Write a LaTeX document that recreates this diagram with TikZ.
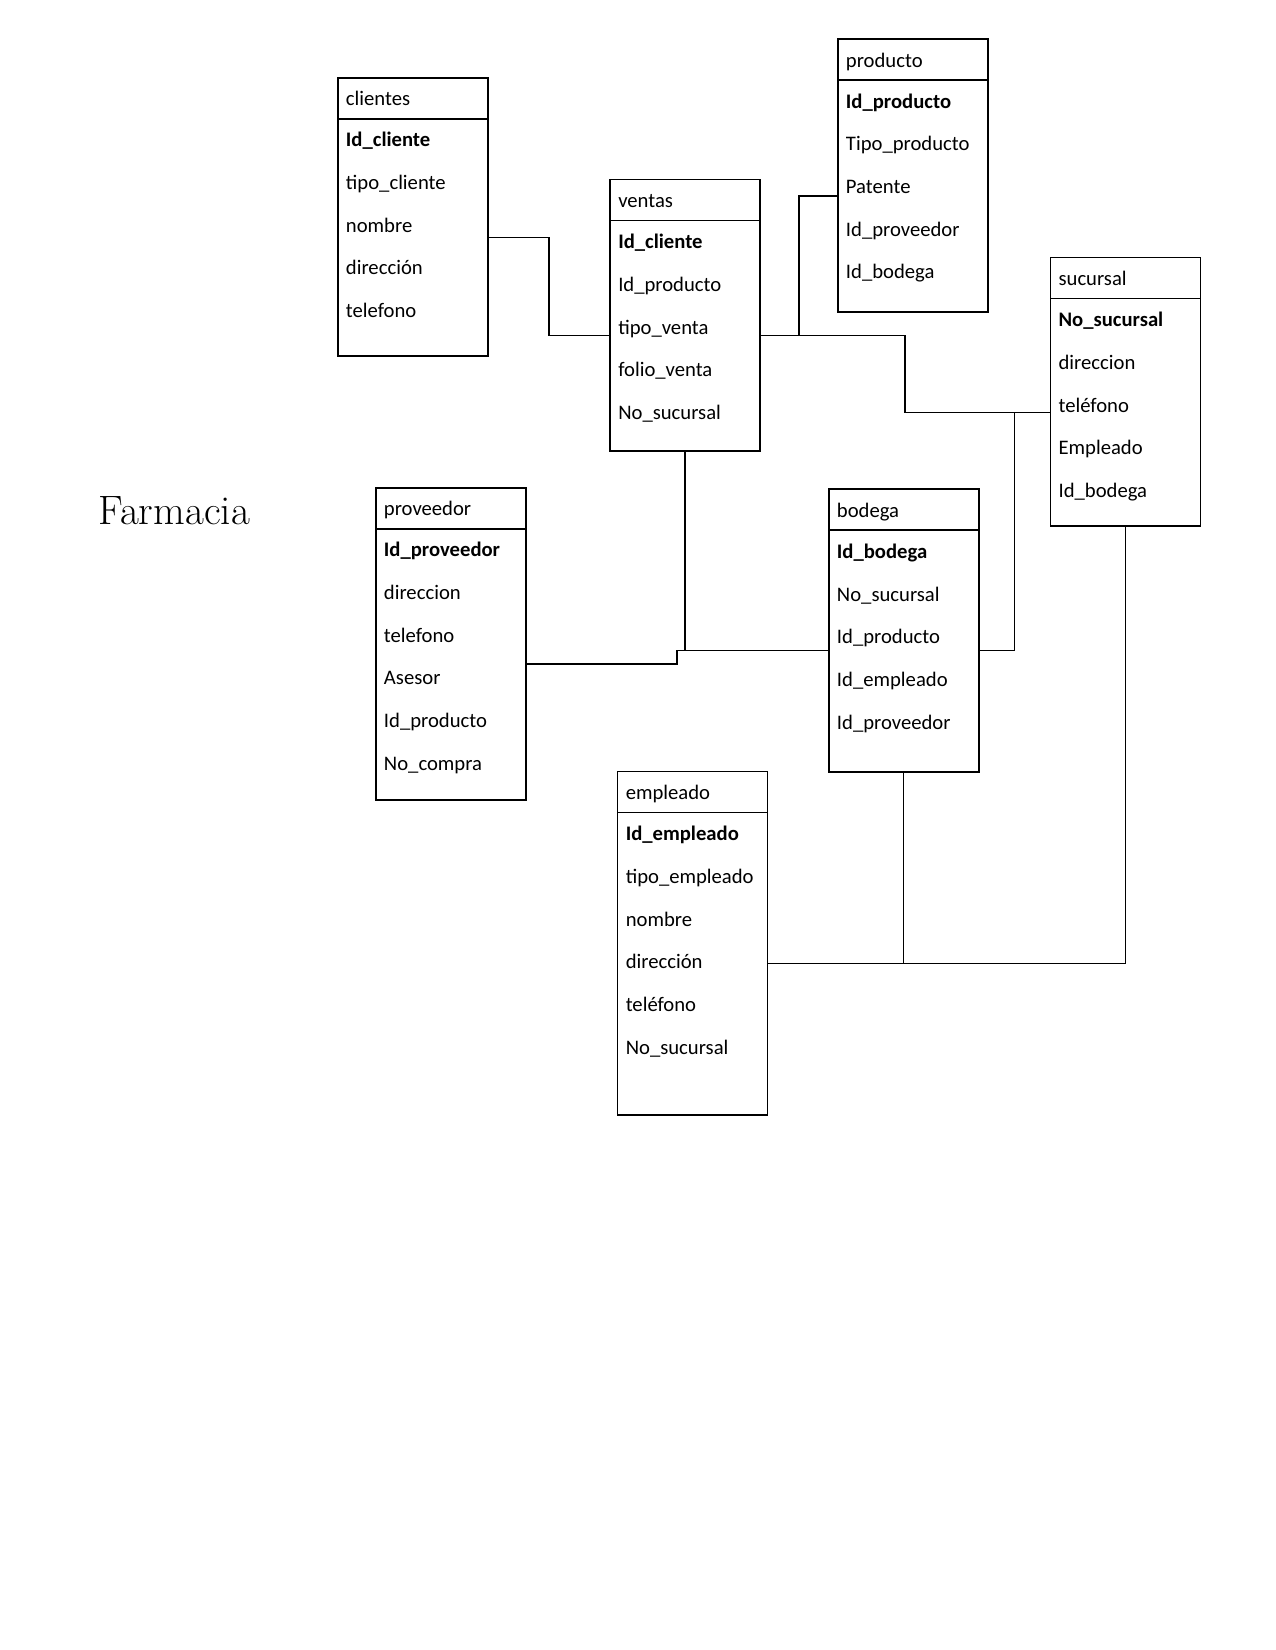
\documentclass[tikz,border=0pt]{standalone}
\usepackage{fontspec}
\newfontfamily\calib{Carlito}
\tikzset{
  x=0.75pt, y=-0.75pt,
  ent/.style={draw, rectangle, minimum width=112.5pt, inner sep=0pt},
  thickb/.style={line width=1.5pt},
  thinb/.style={line width=1pt},
  lbl/.style={anchor=base west, inner sep=0pt, font=\calib\fontsize{15.5}{18}\selectfont},
  conn/.style={line width=1.15pt, line join=miter},
}
\newcommand\erbox[7]{% name, x1, y1, y2, style, title, rows
  \pgfmathsetmacro\ercx{#2+75}%
  \pgfmathsetmacro\ercy{(#3+#4)/2}%
  \pgfmathsetmacro\erhh{(#4-#3)*0.75}%
  \node[ent,#5,minimum height=\erhh pt] (#1) at (\ercx,\ercy) {};
  \draw[#5] (#2,#3+41) -- (#2+150,#3+41);
  \node[lbl] (#1-t) at (#2+8,#3+28) {#6};
  \foreach \ert [count=\eri] in {#7} {
    \node[lbl] (#1-\eri) at (#2+8,#3+41+28+\eri*42.7-42.7) {\ert};
  }
}
\begin{document}
\begin{tikzpicture}
\fill[white] (0,0) rectangle (1275,1650);
\useasboundingbox (0,0) rectangle (1275,1650);

\node[anchor=base west, inner sep=0pt, font=\fontsize{30.8}{36}\selectfont] (title) at (98.3,524) {Farmacia};

\erbox{clientes}{337.7}{77.7}{355.7}{thickb}{clientes}{\textbf{Id\_cliente},tipo\_cliente,nombre,dirección,telefono}
\erbox{producto}{837.7}{39}{312}{thickb}{producto}{\textbf{Id\_producto},Tipo\_producto,Patente,Id\_proveedor,Id\_bodega}
\erbox{ventas}{610}{179.7}{451}{thinb}{ventas}{\textbf{Id\_cliente},Id\_producto,tipo\_venta,folio\_venta,No\_sucursal}
\erbox{sucursal}{1050.3}{257.7}{526}{thinb}{sucursal}{\textbf{No\_sucursal},direccion,teléfono,Empleado,Id\_bodega}
\erbox{proveedor}{375.7}{487.7}{799.7}{thickb}{proveedor}{\textbf{Id\_proveedor},direccion,telefono,Asesor,Id\_producto,No\_compra}
\erbox{bodega}{828.7}{489.3}{771.8}{thickb}{bodega}{\textbf{Id\_bodega},No\_sucursal,Id\_producto,Id\_empleado,Id\_proveedor}
\erbox{empleado}{617.5}{771.7}{1115}{thinb}{empleado}{\textbf{Id\_empleado},tipo\_empleado,nombre,dirección,teléfono,No\_sucursal}

% connectors
\draw[conn] (clientes.east |- 0,237.7) -| (549,335.3) -- (ventas.west |- 0,335.3);
\draw[conn] (ventas.east |- 0,335.3) -- (905,335.3) |- (sucursal.west |- 0,412.4);
\draw[conn] (producto.west |- 0,196) -| (799,335.3);
\coordinate (jb) at (1014.5,412.4);
\draw[conn] (jb) |- (bodega.east |- 0,650.4);
\draw[conn] (ventas.south) |- (bodega.west |- 0,650.4);
\draw[conn] (proveedor.east |- 0,664) -| (677,650.4) -- (ventas.south |- 0,650.4);
\draw[conn] (empleado.east |- 0,963.7) -| (sucursal.south);
\draw[conn] (bodega.south) -- (bodega.south |- 0,963.7);
\end{tikzpicture}
\end{document}
